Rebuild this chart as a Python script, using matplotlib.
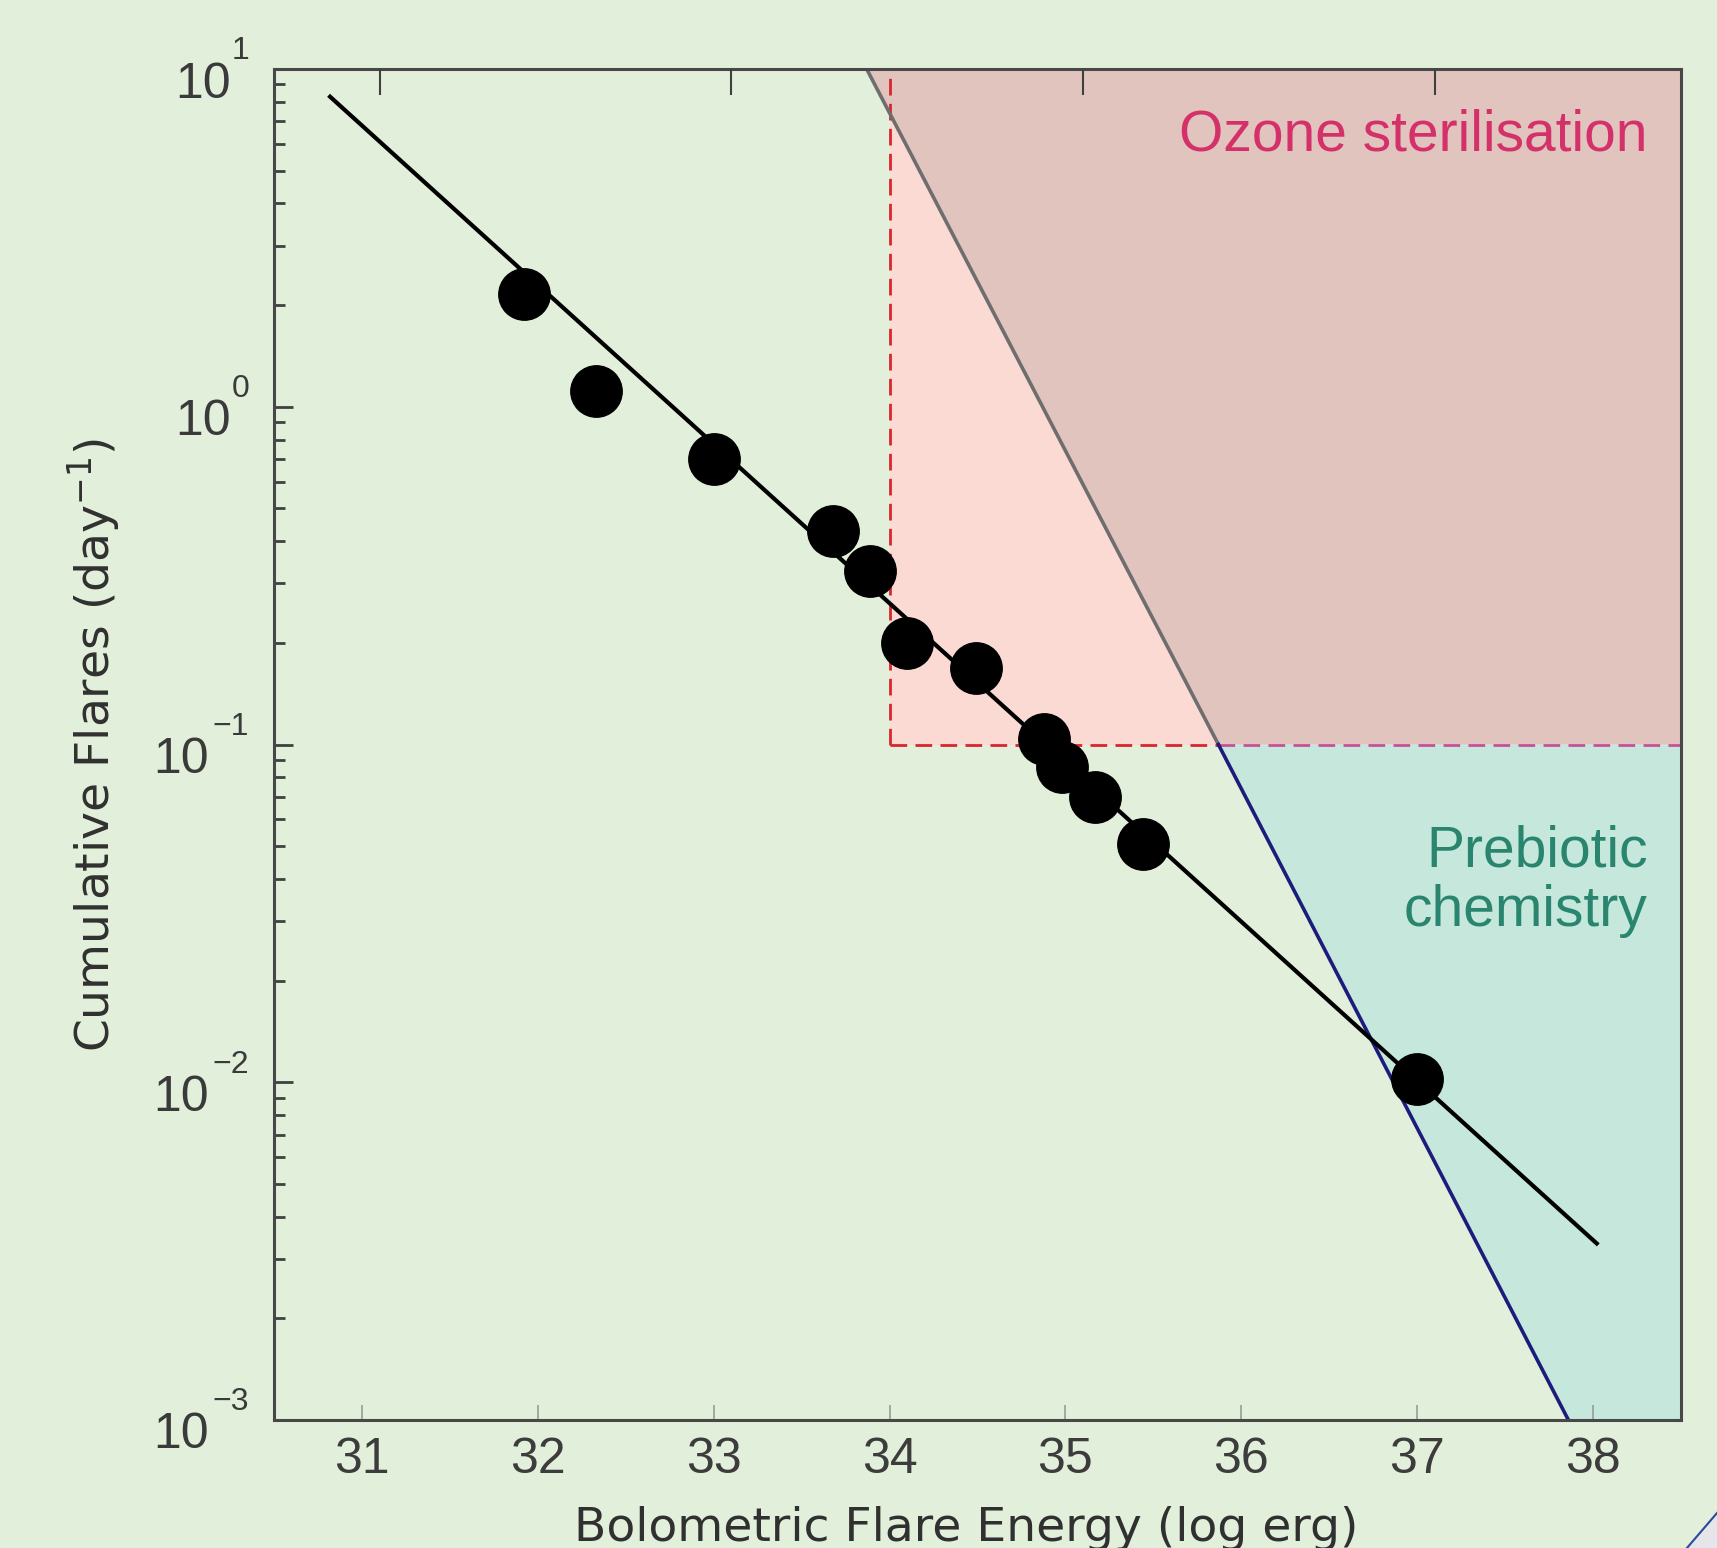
import numpy as np
import matplotlib.pyplot as plt
from matplotlib.ticker import FixedLocator, LogLocator, NullFormatter
from matplotlib.patches import Polygon
from matplotlib.lines import Line2D

# flare frequency data (log erg, flares per day)
energy = [31.92, 32.33, 33.00, 33.68, 33.89, 34.10, 34.49, 34.88, 34.98, 35.17, 35.44, 37.00]
rate = [2.16, 1.11, 0.70, 0.43, 0.327, 0.20, 0.168, 0.104, 0.086, 0.070, 0.0507, 0.0102]

# power-law fit
fit_x = [30.81, 38.03]
fit_y = [8.36, 0.0033]

# steep limit line (gray above 0.1, blue below)
limit_x = [33.87, 35.87, 37.86]
limit_y = [10, 0.1, 0.001]

# ozone sterilisation box corner
ozone_e = 34.0
ozone_rate = 0.1

xticks = [31, 32, 33, 34, 35, 36, 37, 38]
top_ticks = [31.1, 33.1, 35.1, 37.1]
yticks = [1e-3, 1e-2, 1e-1, 1e0, 1e1]
yexp = ['\u22123', '\u22122', '\u22121', '0', '1']

xmin, xmax = 30.5, 38.5
ymin, ymax = 1e-3, 10

bg = '#e2efda'
plt.rcParams['font.family'] = ['DejaVu Sans']

fig = plt.figure(figsize=(17.17, 15.48), dpi=100, facecolor=bg)
ax = fig.add_axes([0.1596, 0.0827, 0.8194, 0.8727])
ax.set_facecolor(bg)
ax.set_yscale('log')
ax.set_xlim(xmin, xmax)
ax.set_ylim(ymin, ymax)

# shaded regions
ax.add_patch(Polygon([(ozone_e, ozone_rate), (xmax, ozone_rate), (xmax, ymax), (ozone_e, ymax)],
                     closed=True, facecolor='#fcdad4', edgecolor='none', zorder=1))
ax.add_patch(Polygon([(limit_x[0], limit_y[0]), (limit_x[1], limit_y[1]), (xmax, limit_y[1]), (xmax, ymax)],
                     closed=True, facecolor='#e2c4be', edgecolor='none', zorder=1.1))
ax.add_patch(Polygon([(limit_x[1], limit_y[1]), (limit_x[2], limit_y[2]), (xmax, limit_y[2]), (xmax, limit_y[1])],
                     closed=True, facecolor='#c6e8dc', edgecolor='none', zorder=1.1))

# dashed box edges
ax.plot([ozone_e, ozone_e], [ozone_rate, ymax], color='#d8262e', lw=2, ls=(0, (6, 3)), zorder=2)
ax.plot([ozone_e, limit_x[1]], [ozone_rate, ozone_rate], color='#d8262e', lw=2, ls=(0, (6, 3)), zorder=2)
ax.plot([limit_x[1], xmax], [ozone_rate, ozone_rate], color='#c8509a', lw=2, ls=(0, (6, 3)), zorder=2)

# limit lines
ax.plot(limit_x[:2], limit_y[:2], color='#6e6e6e', lw=2.6, zorder=3)
ax.plot(limit_x[1:], limit_y[1:], color='#1c1c7c', lw=2.6, zorder=3)

# fit and points
ax.plot(fit_x, fit_y, color='black', lw=3, solid_capstyle='butt', zorder=4)
ax.plot(energy, rate, 'o', color='black', ms=37, zorder=5)

# text labels
ax.text(38.31, 5.75, 'Ozone sterilisation', color='#d4306a', fontsize=41,
        family='Liberation Sans', ha='right', va='baseline', zorder=6)
ax.text(38.31, 0.0436, 'Prebiotic', color='#2a856e', fontsize=41,
        family='Liberation Sans', ha='right', va='baseline', zorder=6)
ax.text(38.31, 0.029, 'chemistry', color='#2a856e', fontsize=41,
        family='Liberation Sans', ha='right', va='baseline', zorder=6)

# axes styling
for s in ax.spines.values():
    s.set_color('#484848')
    s.set_linewidth(2.2)
    s.set_zorder(7)

ax.set_xticks(xticks)
ax.set_xticklabels([str(t) for t in xticks], family='Liberation Sans', fontsize=36, color='#3c3c3c')
ax.tick_params(axis='x', direction='in', length=11, width=1.2, color='#9a9a9a', pad=12)

ax.yaxis.set_major_locator(FixedLocator(yticks))
ax.yaxis.set_minor_locator(LogLocator(base=10, subs=np.arange(2, 10)))
ax.yaxis.set_minor_formatter(NullFormatter())
ax.set_yticklabels([])
ax.tick_params(axis='y', which='major', direction='in', length=14, width=2, color='#404040')
ax.tick_params(axis='y', which='minor', direction='in', length=8, width=2, color='#404040')

# y tick labels: "10" with a raised exponent
ytrans = ax.get_yaxis_transform()
for val, ex in zip(yticks, yexp):
    shift = 13 if len(ex) == 1 else 29
    ax.annotate('10', xy=(0, val), xycoords=ytrans, xytext=(-18 - shift, -20.5),
                textcoords='offset points', ha='right', va='baseline',
                fontsize=36, family='Liberation Sans', color='#3a3a3a', annotation_clip=False)
    ax.annotate(ex, xy=(0, val), xycoords=ytrans, xytext=(-18, 7),
                textcoords='offset points', ha='right', va='baseline',
                fontsize=23, family='Liberation Sans', color='#3a3a3a', annotation_clip=False)

ax2 = ax.twiny()
ax2.set_xlim(xmin, xmax)
ax2.set_xticks(top_ticks)
ax2.tick_params(axis='x', direction='in', length=19, width=1.5, color='#404040', labeltop=False)
ax2.patch.set_visible(False)
for s in ax2.spines.values():
    s.set_visible(False)

ax.set_xlabel('Bolometric Flare Energy (log erg)', fontsize=34, color='#303030')
ax.xaxis.set_label_coords(0.492, -0.064)
ax.set_ylabel(r'Cumulative Flares (day$^{-1}$)', fontsize=34, color='#303030')
ax.yaxis.set_label_coords(-0.107, 0.5)

# slide corner decoration
fig.patches.append(Polygon([(1.0, 0.0226), (0.9825, 0.0), (1.0, 0.0)], closed=True,
                           transform=fig.transFigure, facecolor='#e6e6ea', edgecolor='none'))
fig.lines.append(Line2D([1.0, 0.9825], [0.0226, 0.0], transform=fig.transFigure,
                        color='#2a4a9a', lw=1.5))

fig.savefig('out.png', dpi=100, facecolor=bg)
